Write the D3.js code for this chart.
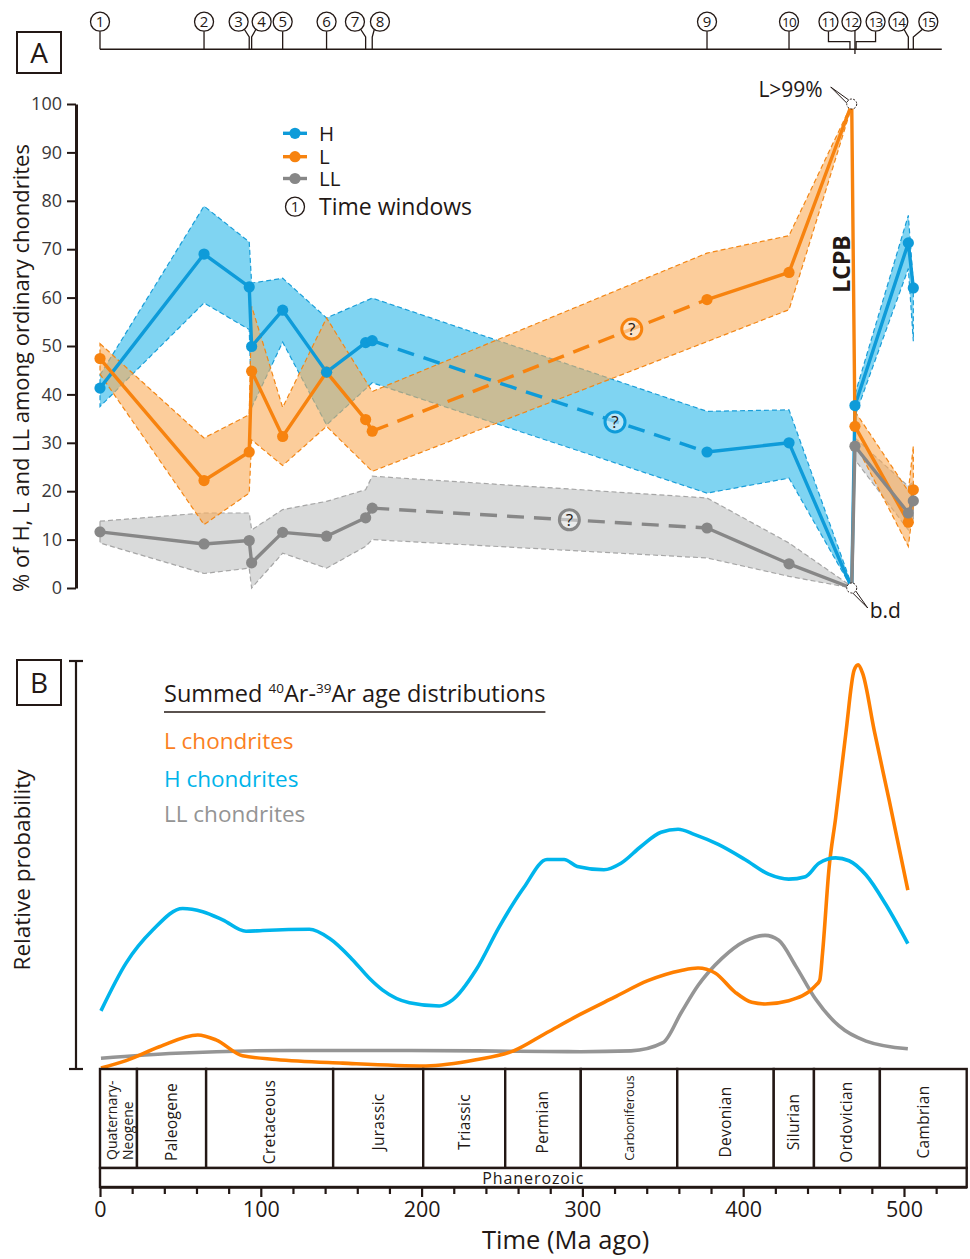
<!DOCTYPE html>
<html>
<head>
<meta charset="utf-8">
<script src="https://cdn.jsdelivr.net/npm/d3@7"></script>
<style>
  html, body { margin: 0; padding: 0; background: #fff; }
  svg { display: block; font-family: "Open Sans", "Noto Sans", sans-serif; }
</style>
</head>
<body>
<svg id="chart" width="970" height="1259"></svg>
<script>
// ---------------- data ----------------
// Time windows (Ma ago)
const windowIds  = [1, 2, 3, 4, 5, 6, 7, 8, 9, 10, 11, 12, 13, 14, 15];
const windowAges = [0, 64.7, 92.8, 94.3, 113.6, 140.9, 165.2, 169.3, 377.5, 428.5, 466.4, 469.5, 470.2, 502.7, 505.8];

// Panel A: share (%) of H, L and LL among ordinary chondrites
const pointAges = [0, 64.7, 92.8, 94.3, 113.6, 140.9, 165.2, 169.3, 377.5, 428.5, 467.5, 469.5, 502.7, 505.8];
const hValues   = [41.3, 69.0, 62.2, 49.9, 57.4, 44.6, 50.7, 51.1, 28.1, 30.0, 0, 37.7, 71.3, 62.0];
const lValues   = [47.4, 22.2, 28.1, 44.8, 31.3, 44.6, 34.8, 32.4, 59.6, 65.2, 100, 33.4, 13.6, 20.3];
const llValues  = [11.6, 9.1, 9.8, 5.2, 11.5, 10.7, 14.5, 16.5, 12.4, 5.0, 0, 29.3, 15.5, 18.0];
const lcpbIndex = 10;          // L > 99 % / below detection at the LCPB
const gapFrom = 7, gapTo = 8;  // poorly constrained interval (dashed)

// uncertainty envelopes: [age, low, high]
const hBandAges  = [0, 64.7, 92.8, 94.3, 113.6, 140.9, 169.3, 377.5, 428.5, 467.5];
const hBandLow   = [37.5, 58.9, 53.4, 37.3, 50.8, 33.7, 42.4, 19.6, 22.7, 0];
const hBandHigh  = [44.0, 78.9, 71.5, 63.0, 64.0, 55.8, 59.9, 36.5, 36.8, 0.6];
const lBandAges  = [0, 64.7, 92.8, 94.3, 113.6, 140.9, 169.3, 377.5, 428.5, 467.5];
const lBandLow   = [44.2, 13.1, 19.6, 30.6, 25.3, 33.4, 24.1, 50.9, 57.5, 99.5];
const lBandHigh  = [50.5, 31.0, 35.8, 58.2, 37.3, 55.8, 40.6, 69.2, 72.8, 100];
const llBandAges = [0, 64.7, 92.8, 94.3, 113.6, 140.9, 165.2, 169.3, 377.5, 428.5, 467.5];
const llBandLow  = [9.3, 3.0, 4.1, 0, 7.2, 4.1, 8.6, 10.0, 6.2, 2.4, 0];
const llBandHigh = [13.8, 15.5, 15.5, 12.0, 16.2, 17.9, 20.3, 23.1, 18.6, 9.3, 0.3];
// envelopes after the L-chondrite parent-body breakup
const postAges   = [469.5, 502.7, 505.8];
const hPostLow   = [35.5, 66, 51];
const hPostHigh  = [40, 77, 63];
const lPostLow   = [30, 8.6, 17];
const lPostHigh  = [36.5, 20, 29.3];
const llPostLow  = [26.5, 12, 14];
const llPostHigh = [31, 21, 22];

// "?" markers on the dashed stretch: [age, value]
const hQuery  = [320.3, 34.3];
const lQuery  = [330.7, 53.5];
const llQuery = [291.9, 14.1];

// Panel B: summed 40Ar-39Ar age distributions (relative probability)
const hDistAges = [0.6, 16.2, 32.8, 51.4, 63.9, 76.3, 90.8, 101.2, 130.2, 142.6, 157.2, 167.5, 175.8, 192.4, 211.0, 219.3, 233.8, 248.3, 263.4, 278.0, 288.6, 296.8, 313.4, 324.0, 336.4, 348.9, 359.5, 369.9, 384.5, 401.1, 415.8, 428.3, 438.7, 447.1, 457.5, 465.8, 476.4, 488.8, 502.4];
const hDistProb = [0.140, 0.257, 0.338, 0.391, 0.383, 0.363, 0.335, 0.337, 0.340, 0.318, 0.265, 0.220, 0.191, 0.160, 0.152, 0.167, 0.240, 0.346, 0.441, 0.511, 0.511, 0.494, 0.486, 0.502, 0.543, 0.578, 0.585, 0.572, 0.548, 0.511, 0.475, 0.463, 0.469, 0.502, 0.515, 0.508, 0.473, 0.400, 0.305];
const lDistAges = [0.6, 16.2, 36.9, 60.8, 72.1, 88.7, 109.5, 150.9, 202.7, 233.8, 257.2, 278.0, 298.9, 319.7, 340.7, 361.5, 371.9, 382.5, 394.9, 405.3, 413.6, 428.3, 445.0, 447.6, 449.4, 453.4, 457.5, 463.8, 469.0, 471.5, 474.3, 481.5, 490.9, 502.4];
const lDistProb = [0.000, 0.018, 0.052, 0.081, 0.069, 0.030, 0.021, 0.012, 0.005, 0.020, 0.042, 0.087, 0.132, 0.173, 0.214, 0.239, 0.245, 0.233, 0.186, 0.161, 0.157, 0.165, 0.202, 0.215, 0.284, 0.490, 0.613, 0.819, 0.975, 0.988, 0.967, 0.827, 0.654, 0.436];
const llDistAges = [0.6, 47.3, 117.7, 192.4, 260.0, 298.9, 330.2, 350.1, 361.5, 371.9, 386.6, 401.1, 413.6, 422.1, 432.5, 445.0, 459.6, 476.4, 502.4];
const llDistProb = [0.024, 0.036, 0.043, 0.043, 0.041, 0.040, 0.042, 0.062, 0.136, 0.202, 0.268, 0.311, 0.325, 0.313, 0.251, 0.169, 0.103, 0.066, 0.047];

// Geologic time scale (Ma)
const periodNames = ["Quaternary-|Neogene", "Paleogene", "Cretaceous", "Jurassic", "Triassic", "Permian", "Carboniferous", "Devonian", "Silurian", "Ordovician", "Cambrian"];
const periodStart = [0, 23, 66, 145, 201, 252, 299, 359, 419, 444, 485];
const periodEnd   = [23, 66, 145, 201, 252, 299, 359, 419, 444, 485, 539];
const eonName = "Phanerozoic";
const timeTicks = d3.range(0, 540, 20);
const timeLabels = [0, 100, 200, 300, 400, 500];
const pctTicks = d3.range(0, 101, 10);

// ---------------- layout ----------------
const ink = "#231815";
const col = {
  h:  { line: "#0e9bd9", fill: "#7fd4f2", edge: "#1a9ed9" },
  l:  { line: "#f7830f", fill: "rgb(250,172,88)", edge: "#f38716" },
  ll: { line: "#878787", fill: "#d9dada", edge: "#a6a6a6" }
};
const distCol = { h: "#00b5ec", l: "#ff7f00", ll: "#959595" };

const svg = d3.select("#chart");
const x  = d3.scaleLinear().domain([0, 539]).range([100, 966.7]);
const yA = d3.scaleLinear().domain([0, 100]).range([588, 104]);
const yB = d3.scaleLinear().domain([0, 1]).range([1068, 660]);

// ---------- panel labels ----------
function panelBox(label, bx, by, bw, bh) {
  svg.append("rect").attr("x", bx).attr("y", by).attr("width", bw).attr("height", bh)
    .attr("fill", "#fff").attr("stroke", ink).attr("stroke-width", 2);
  svg.append("text").attr("x", bx + bw / 2).attr("y", by + bh / 2).attr("dy", "0.36em")
    .attr("text-anchor", "middle").attr("font-size", 28).attr("fill", ink).text(label);
}
panelBox("A", 17, 32, 44, 41);
panelBox("B", 17, 660, 44, 45);

// ---------- time-window strip ----------
const twLineY = 49.3, twCy = 21.7, twR = 9.5;
// label offset from the tick (px) and leader style
const twDx     = [0, 0, -10.6, 10, 0, 0, -10.7, 7.7, 0, 0, -21.5, -3.5, 19.5, -10, 15];
const twLeader = ["v", "v", "d", "d", "v", "v", "d", "d", "v", "v", "b", "x", "b", "d", "d"];
const tw = svg.append("g");
tw.append("line").attr("x1", x(0)).attr("x2", x(523.5)).attr("y1", twLineY).attr("y2", twLineY)
  .attr("stroke", ink).attr("stroke-width", 1.6);
windowIds.forEach((id, i) => {
  const tx = x(windowAges[i]);
  const cx = tx + twDx[i];
  let d;
  switch (twLeader[i]) {
    case "v": d = `M${cx},${twCy + twR}V${twLineY}`; break;
    case "d": d = `M${cx + Math.sign(tx - cx) * 5.5},${twCy + 7.3}L${tx},37V${twLineY}`; break;
    case "b": d = `M${cx},${twCy + twR}V41.7H${tx}V${twLineY}`; break;
    case "x": d = `M${tx},${twCy + twR - 0.5}V54`; break;
  }
  tw.append("path").attr("d", d).attr("fill", "none").attr("stroke", ink).attr("stroke-width", 1.3);
  tw.append("circle").attr("cx", cx).attr("cy", twCy).attr("r", twR)
    .attr("fill", "#fff").attr("stroke", ink).attr("stroke-width", 1.3);
  tw.append("text").attr("x", cx).attr("y", twCy).attr("dy", "0.36em").attr("text-anchor", "middle")
    .attr("font-size", id > 9 ? 13.5 : 15).attr("letter-spacing", id > 9 ? -0.8 : 0)
    .attr("fill", ink).text(id);
});

// ---------- panel A ----------
const gA = svg.append("g");
const area = d3.area().x(d => x(d[0])).y0(d => yA(d[1])).y1(d => yA(d[2]));
function band(ages, lo, hi, c, opacity) {
  gA.append("path").datum(d3.zip(ages, lo, hi)).attr("d", area)
    .attr("fill", c.fill).attr("fill-opacity", opacity)
    .attr("stroke", c.edge).attr("stroke-width", 1.2).attr("stroke-dasharray", "5,3");
}
band(llBandAges, llBandLow, llBandHigh, col.ll, 1);
band(postAges, llPostLow, llPostHigh, col.ll, 1);
band(hBandAges, hBandLow, hBandHigh, col.h, 1);
band(postAges, hPostLow, hPostHigh, col.h, 1);
band(lBandAges, lBandLow, lBandHigh, col.l, 0.6);
band(postAges, lPostLow, lPostHigh, col.l, 0.6);

const line = d3.line().x(d => x(d[0])).y(d => yA(d[1]));
function seriesLine(vals, c) {
  const pts = d3.zip(pointAges, vals);
  const g = gA.append("g").attr("fill", "none").attr("stroke", c.line).attr("stroke-width", 3.4)
    .attr("stroke-linejoin", "round");
  g.append("path").attr("d", line(pts.slice(0, gapFrom + 1)));
  g.append("path").attr("d", line(pts.slice(gapFrom, gapTo + 1))).attr("stroke-dasharray", "17,10");
  g.append("path").attr("d", line(pts.slice(gapTo)));
}
function seriesDots(vals, c) {
  const pts = d3.zip(pointAges, vals).filter((d, i) => i !== lcpbIndex);
  gA.append("g").selectAll("circle").data(pts).join("circle")
    .attr("cx", d => x(d[0])).attr("cy", d => yA(d[1])).attr("r", 5.6).attr("fill", c.line);
}
function query(q, c) {
  const g = gA.append("g");
  g.append("circle").attr("cx", x(q[0])).attr("cy", yA(q[1])).attr("r", 10)
    .attr("fill", "#fff").attr("fill-opacity", 0.45).attr("stroke", c.line).attr("stroke-width", 3);
  g.append("text").attr("x", x(q[0])).attr("y", yA(q[1])).attr("dy", "0.36em").attr("text-anchor", "middle")
    .attr("font-size", 17).attr("fill", ink).text("?");
}
seriesLine(hValues, col.h);
seriesLine(lValues, col.l);
seriesLine(llValues, col.ll);
seriesDots(lValues, col.l);
seriesDots(llValues, col.ll);
seriesDots(hValues, col.h);
query(hQuery, col.h);
query(lQuery, col.l);
query(llQuery, col.ll);

// LCPB extremes: L > 99 % and H, LL below detection
const topPt = [x(pointAges[lcpbIndex]), yA(lValues[lcpbIndex])];
const botPt = [x(pointAges[lcpbIndex]), yA(hValues[lcpbIndex])];
[topPt, botPt].forEach(p => {
  gA.append("circle").attr("cx", p[0]).attr("cy", p[1]).attr("r", 5)
    .attr("fill", "#fff").attr("stroke", ink).attr("stroke-width", 1).attr("stroke-dasharray", "2,1.5");
});
gA.append("path").attr("d", `M${topPt[0] - 21},${topPt[1] - 17}L${topPt[0] - 5},${topPt[1] - 1}M${topPt[0] - 21},${topPt[1] - 17}L${topPt[0] - 3},${topPt[1] - 4}`)
  .attr("stroke", ink).attr("stroke-width", 1).attr("fill", "none");
gA.append("path").attr("d", `M${botPt[0] + 16},${botPt[1] + 20}L${botPt[0] + 1},${botPt[1] + 5}M${botPt[0] + 16},${botPt[1] + 20}L${botPt[0] + 4},${botPt[1] + 3}`)
  .attr("stroke", ink).attr("stroke-width", 1).attr("fill", "none");
gA.append("text").attr("x", topPt[0] - 29).attr("y", topPt[1] - 7).attr("text-anchor", "end")
  .attr("font-size", 21).attr("fill", ink).text("L>99%");
gA.append("text").attr("x", botPt[0] + 18).attr("y", botPt[1] + 30)
  .attr("font-size", 21).attr("fill", ink).text("b.d");
gA.append("text").attr("transform", `translate(${topPt[0] - 2},264) rotate(-90)`)
  .attr("text-anchor", "middle").attr("font-size", 23).attr("font-weight", "bold").attr("fill", ink).text("LCPB");

// y axis A
const axA = svg.append("g").attr("transform", "translate(76,0)")
  .call(d3.axisLeft(yA).tickValues(pctTicks).tickSize(9).tickSizeOuter(0).tickPadding(5));
axA.select(".domain").attr("stroke", ink).attr("stroke-width", 3);
axA.selectAll(".tick line").attr("stroke", ink).attr("stroke-width", 2);
axA.selectAll(".tick text").attr("font-size", 18).attr("fill", "#3b3838").attr("font-family", "Open Sans");
svg.append("text").attr("transform", "translate(29,368) rotate(-90)").attr("text-anchor", "middle")
  .attr("font-size", 22).attr("fill", ink).text("% of H, L and LL among ordinary chondrites");

// legend A
const legA = svg.append("g");
const legItems = [["H", col.h, 133.3], ["L", col.l, 156.7], ["LL", col.ll, 178.5]];
legItems.forEach(([name, c, ly]) => {
  legA.append("line").attr("x1", 283).attr("x2", 307).attr("y1", ly).attr("y2", ly)
    .attr("stroke", c.line).attr("stroke-width", 3.4);
  legA.append("circle").attr("cx", 295).attr("cy", ly).attr("r", 5.6).attr("fill", c.line);
  legA.append("text").attr("x", 319).attr("y", ly + 7.5).attr("font-size", 20.5).attr("fill", ink).text(name);
});
legA.append("circle").attr("cx", 295).attr("cy", 206.7).attr("r", 9.5).attr("fill", "#fff")
  .attr("stroke", ink).attr("stroke-width", 1.3);
legA.append("text").attr("x", 295).attr("y", 206.7).attr("dy", "0.36em").attr("text-anchor", "middle")
  .attr("font-size", 15).attr("fill", ink).text(1);
legA.append("text").attr("x", 319).attr("y", 215).attr("font-size", 23).attr("fill", ink).text("Time windows");

// ---------- panel B ----------
const gB = svg.append("g");
const distLine = d3.line().x(d => x(d[0])).y(d => yB(d[1])).curve(d3.curveMonotoneX);
[[llDistAges, llDistProb, distCol.ll], [lDistAges, lDistProb, distCol.l], [hDistAges, hDistProb, distCol.h]]
  .forEach(([a, p, c]) => {
    gB.append("path").datum(d3.zip(a, p)).attr("d", distLine).attr("fill", "none")
      .attr("stroke", c).attr("stroke-width", 3.6).attr("stroke-linejoin", "round");
  });

// y axis B (no scale values, just the extent)
const axB = svg.append("g").attr("stroke", ink).attr("stroke-width", 2.2);
axB.append("line").attr("x1", 76).attr("x2", 76).attr("y1", yB(1) + 1).attr("y2", yB(0) + 1);
axB.append("line").attr("x1", 69).attr("x2", 83).attr("y1", yB(1) + 1).attr("y2", yB(1) + 1);
axB.append("line").attr("x1", 69).attr("x2", 83).attr("y1", yB(0) + 1).attr("y2", yB(0) + 1);
svg.append("text").attr("transform", "translate(30,870) rotate(-90)").attr("text-anchor", "middle")
  .attr("font-size", 22.5).attr("fill", ink).text("Relative probability");

// legend B
const title = svg.append("text").attr("x", 164).attr("y", 702).attr("font-size", 23.5).attr("fill", ink);
title.append("tspan").text("Summed ");
title.append("tspan").attr("font-size", 13.5).attr("dy", -9).text("40");
title.append("tspan").attr("dy", 9).text("Ar-");
title.append("tspan").attr("font-size", 13.5).attr("dy", -9).text("39");
title.append("tspan").attr("dy", 9).text("Ar age distributions");
const tw0 = title.node().getComputedTextLength();
svg.append("line").attr("x1", 164).attr("x2", 164 + tw0).attr("y1", 712).attr("y2", 712)
  .attr("stroke", ink).attr("stroke-width", 1.6);
[["L chondrites", "#fb7f22", 749], ["H chondrites", "#00b4ea", 787], ["LL chondrites", "#949494", 822]]
  .forEach(([t, c, ty]) => {
    svg.append("text").attr("x", 164).attr("y", ty).attr("font-size", 22.5).attr("fill", c).text(t);
  });

// ---------- geologic time scale ----------
const gs = svg.append("g");
const scTop = 1069, scMid = 1168, scBot = 1187;
periodNames.forEach((name, i) => {
  const x0 = x(periodStart[i]), x1 = x(periodEnd[i]);
  gs.append("rect").attr("x", x0).attr("y", scTop).attr("width", x1 - x0).attr("height", scMid - scTop)
    .attr("fill", "#fff").attr("stroke", ink).attr("stroke-width", 2.4);
  const parts = name.split("|");
  if (parts.length === 2) {
    parts.forEach((p, k) => {
      gs.append("text").attr("transform", `translate(${x0 + 16.5 + k * 16.6},1160) rotate(-90)`)
        .attr("font-size", 14).attr("fill", ink).text(p);
    });
  } else {
    const small = name === "Carboniferous";
    gs.append("text").attr("transform", `translate(${(x0 + x1) / 2},${small ? 1118 : 1122}) rotate(-90)`)
      .attr("text-anchor", "middle").attr("dy", "0.35em")
      .attr("font-size", small ? 12.8 : 15.5).attr("letter-spacing", small ? 0 : 0.3)
      .attr("fill", ink).text(name);
  }
});
gs.append("rect").attr("x", x(0)).attr("y", scMid).attr("width", x(539) - x(0)).attr("height", scBot - scMid)
  .attr("fill", "#fff").attr("stroke", ink).attr("stroke-width", 2.4);
gs.append("text").attr("x", (x(0) + x(539)) / 2).attr("y", 1184).attr("text-anchor", "middle")
  .attr("font-size", 16).attr("letter-spacing", 0.9).attr("fill", ink).text(eonName);

// time axis
const axT = svg.append("g").attr("transform", `translate(0,${scBot})`)
  .call(d3.axisBottom(x).tickValues(timeTicks).tickSizeOuter(0)
    .tickFormat(d => timeLabels.includes(d) ? d : ""));
axT.select(".domain").attr("stroke", ink).attr("stroke-width", 2.4);
axT.selectAll(".tick line").attr("stroke", ink).attr("stroke-width", 2.2)
  .attr("y2", d => timeLabels.includes(d) ? 10 : 7);
axT.selectAll(".tick text").attr("font-size", 21.5).attr("fill", ink).attr("font-family", "Open Sans")
  .attr("y", 15).attr("dy", "0.71em");
svg.append("text").attr("x", 482).attr("y", 1249).attr("font-size", 25.5).attr("fill", ink).text("Time (Ma ago)");
</script>
</body>
</html>
